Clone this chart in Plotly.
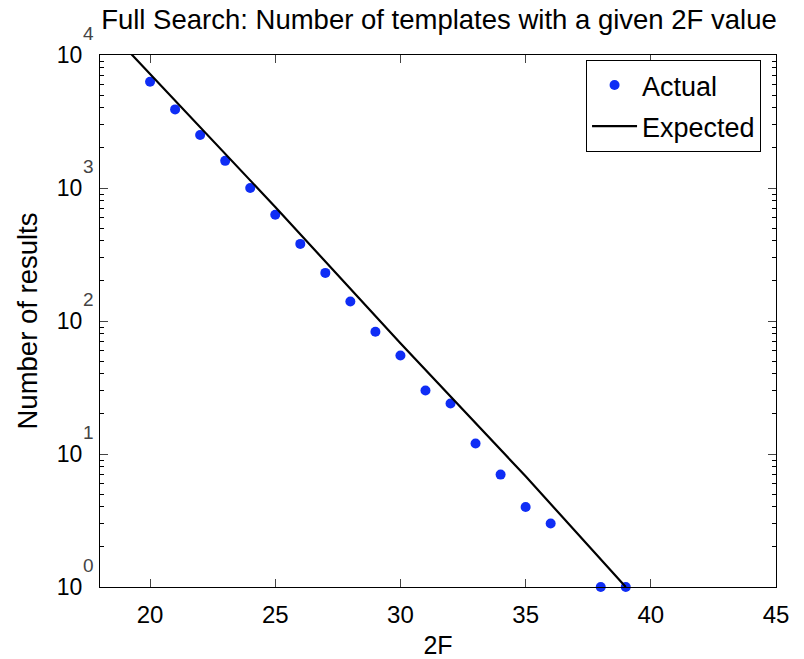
import plotly.graph_objects as go

# Data
two_f = [20, 21, 22, 23, 24, 25, 26, 27, 28, 29, 30, 31, 32, 33, 34, 35, 36, 38, 39]
actual = [6300, 3900, 2500, 1600, 1000, 630, 380, 230, 140, 83, 55, 30, 24, 12, 7, 4, 3, 1, 1]

exp_x = [19, 25, 30, 35, 39]
exp_y = [11400, 720, 68, 6.8, 1]

ytick_vals = [1, 10, 100, 1000, 10000]
ytick_text = ["10", "10", "10", "10", "10"]
ytick_exps = ["0", "1", "2", "3", "4"]
xtick_vals = [20, 25, 30, 35, 40, 45]

minor_vals = [m * 10 ** k for k in range(0, 4) for m in range(2, 10)]

font = "Liberation Sans, Arial, sans-serif"

fig = go.Figure()
fig.add_trace(go.Scatter(
    x=two_f, y=actual, mode="markers", name="Actual",
    marker=dict(color="rgb(15,45,245)", size=10),
    legendgroup="a", cliponaxis=False,
))
fig.add_trace(go.Scatter(
    x=exp_x, y=exp_y, mode="lines", name="Expected",
    line=dict(color="black", width=2.2),
    legendgroup="b",
))

# MATLAB-style exponents above-right of each "10"
for i, e in enumerate(ytick_exps):
    fig.add_annotation(
        text=e, xref="paper", yref="y", x=-0.0165, y=i,
        xanchor="center", yanchor="middle", yshift=22, showarrow=False,
        font=dict(family=font, size=19, color="#444"),
    )

fig.update_layout(
    width=804, height=659,
    paper_bgcolor="white", plot_bgcolor="white",
    margin=dict(l=100, r=28, t=55, b=72, autoexpand=False),
    font=dict(family=font, size=24, color="black"),
    title=dict(text="Full Search: Number of templates with a given 2F value",
               x=0.546, xanchor="center", y=0.97, yanchor="middle",
               font=dict(size=27.5)),
    showlegend=True,
    legend=dict(x=0.719, y=0.9906, xanchor="left", yanchor="top",
                bordercolor="black", borderwidth=1, bgcolor="white",
                font=dict(size=27), traceorder="grouped", tracegroupgap=3,
                itemwidth=45),
    xaxis=dict(range=[18, 45], tickvals=xtick_vals, ticks="inside", ticklen=8,
               showline=True, linecolor="black", linewidth=1, mirror="allticks",
               showgrid=False, zeroline=False, ticklabelstandoff=6,
               automargin=False,
               title=dict(text="2F", standoff=10, font=dict(size=25))),
    yaxis=dict(type="log", range=[0, 4], tickvals=ytick_vals, ticktext=ytick_text,
               ticks="inside", ticklen=8, ticklabelstandoff=12,
               tickfont=dict(size=23), automargin=False,
               showline=True, linecolor="black", linewidth=1, mirror="allticks",
               showgrid=False, zeroline=False,
               minor=dict(tickvals=minor_vals, ticks="inside", ticklen=4,
                          tickcolor="black", showgrid=False),
               title=dict(text="Number of results", standoff=11, font=dict(size=27.5))),
)

fig.write_html("out.html")
